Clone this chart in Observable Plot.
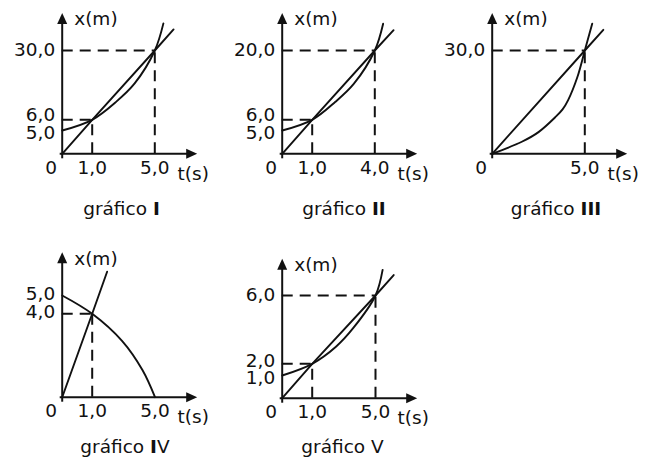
<!DOCTYPE html>
<html>
<head>
<meta charset="utf-8">
<script src="https://cdn.jsdelivr.net/npm/d3@7"></script>
<script src="https://cdn.jsdelivr.net/npm/@observablehq/plot@0.6"></script>
<style>
  body { margin: 0; background: #fff; }
  #page { position: relative; width: 652px; height: 465px; overflow: hidden; background: #fff; }
  .panel { position: absolute; }
  .panel svg { background: transparent; overflow: visible; }
  .caption { position: absolute; width: 140px; text-align: center; color: #111;
             font: 18.5px/19px "DejaVu Sans", sans-serif; white-space: nowrap; }
</style>
</head>
<body>
<div id="page"></div>
<script>
// Position–time sketches: a uniform motion (straight line) and an
// accelerated one (curve) on the same axes, for five cases.

// gráfico I
const tTicks1 = [1, 5];
const xTicks1 = [5, 6, 30];
const line1   = [{t: 0, x: 0}, {t: 1, x: 6}, {t: 5, x: 30}, {t: 6.2, x: 37.3}];
const curve1  = [{t: 0, x: 5}, {t: 1, x: 6}, {t: 2.5, x: 12.1}, {t: 3.7, x: 18.5}, {t: 5, x: 30}, {t: 5.55, x: 39.4}];
const meet1   = [{t: 1, x: 6}, {t: 5, x: 30}];

// gráfico II
const tTicks2 = [1, 4];
const xTicks2 = [5, 6, 20];
const line2   = [{t: 0, x: 0}, {t: 1, x: 6}, {t: 4, x: 20}, {t: 4.9, x: 24.1}];
const curve2  = [{t: 0, x: 5}, {t: 1, x: 6}, {t: 2.1, x: 9.6}, {t: 3, x: 13.3}, {t: 4, x: 20}, {t: 4.4, x: 25.4}];
const meet2   = [{t: 1, x: 6}, {t: 4, x: 20}];

// gráfico III
const tTicks3 = [5];
const xTicks3 = [30];
const line3   = [{t: 0, x: 0}, {t: 5, x: 30}, {t: 6, x: 36}];
const curve3  = [{t: 0, x: 0}, {t: 1.6, x: 3.5}, {t: 2.5, x: 6.3}, {t: 3.4, x: 10.6}, {t: 3.8, x: 12.9},
                 {t: 4.1, x: 15.6}, {t: 4.6, x: 22.3}, {t: 5, x: 30}, {t: 5.4, x: 37.8}];
const meet3   = [{t: 5, x: 30}];

// gráfico IV
const tTicks4 = [1, 5];
const xTicks4 = [4, 5];
const line4   = [{t: 0, x: 0}, {t: 1, x: 4}, {t: 1.95, x: 6.3}];
const curve4  = [{t: 0, x: 5}, {t: 1, x: 4}, {t: 2.9, x: 2.7}, {t: 4.2, x: 1.3}, {t: 5, x: 0}];
const meet4   = [{t: 1, x: 4}];

// gráfico V
const tTicks5 = [1, 5];
const xTicks5 = [1, 2, 6];
const line5   = [{t: 0, x: 0}, {t: 1, x: 2}, {t: 5, x: 6}, {t: 6.15, x: 7.2}];
const curve5  = [{t: 0, x: 1}, {t: 1, x: 2}, {t: 2.5, x: 3.0}, {t: 3.6, x: 4.1}, {t: 5, x: 6}, {t: 5.45, x: 7.5}];
const meet5   = [{t: 1, x: 2}, {t: 5, x: 6}];

const names = ["I", "II", "III", "IV", "V"];

// Layout: the sketches are not to scale, so each axis is a piecewise-linear
// scale whose breakpoints (page pixels) follow the labelled values.
const layout = [
  {box: [0, 0, 218, 190],   tRange: [61.7, 91.7, 154.3],  xRange: [153.3, 130, 119.3, 50],   tip: [196.7, 12.5],  nudge: {6: -4.5, 5: 2.5}, caption: [121.5, 215]},
  {box: [218, 0, 215, 190], tRange: [281.7, 311.7, 374.3], xRange: [153.3, 130, 119.3, 50],  tip: [416.7, 12.5],  nudge: {6: -4.5, 5: 2.5}, caption: [344, 215]},
  {box: [433, 0, 219, 190], tRange: [491.7, 584.3],        xRange: [153.3, 50],               tip: [626.7, 12.5],  nudge: {},                caption: [556, 215]},
  {box: [0, 232, 218, 200], tRange: [61.7, 91.7, 154.5],  xRange: [396.7, 313.3, 295],       tip: [196.7, 251.7], nudge: {5: -1.5, 4: -1.5},  caption: [125, 453]},
  {box: [218, 232, 215, 200], tRange: [281.7, 311.7, 375], xRange: [397.7, 375, 363.3, 295], tip: [416.7, 258.3], nudge: {2: -2.5, 1: 2.5},  caption: [342.5, 453]}
];

const panels = [
  {tTicks: tTicks1, xTicks: xTicks1, line: line1, curve: curve1, meet: meet1},
  {tTicks: tTicks2, xTicks: xTicks2, line: line2, curve: curve2, meet: meet2},
  {tTicks: tTicks3, xTicks: xTicks3, line: line3, curve: curve3, meet: meet3},
  {tTicks: tTicks4, xTicks: xTicks4, line: line4, curve: curve4, meet: meet4},
  {tTicks: tTicks5, xTicks: xTicks5, line: line5, curve: curve5, meet: meet5}
];

const ink = "#111";
const font = {fontFamily: "DejaVu Sans", fontSize: 18.5, fill: ink, lineAnchor: "middle"};
const fmt = (v) => v.toFixed(1).replace(".", ",");

// filled arrowhead with its tip at the symbol origin, pointing up
const arrowHead = {
  draw(ctx) {
    ctx.moveTo(0, 0);
    ctx.lineTo(5, 11);
    ctx.lineTo(-5, 11);
    ctx.closePath();
  }
};

const page = document.getElementById("page");

panels.forEach((p, i) => {
  const L = layout[i];
  const [left, top, width, height] = L.box;
  const ox = L.tRange[0], oy = L.xRange[0];

  const chart = Plot.plot({
    width,
    height,
    marginLeft: ox - left,
    marginTop: L.tip[1] - top,
    marginRight: left + width - L.tip[0],
    marginBottom: top + height - oy,
    x: {type: "linear", domain: [0, ...p.tTicks], range: L.tRange.map((v) => v - left), axis: null},
    y: {type: "linear", domain: [0, ...p.xTicks], range: L.xRange.map((v) => v - top), axis: null},
    style: {background: "transparent", overflow: "visible"},
    marks: [
      // dashed reading lines to the crossing points
      Plot.ruleY(p.meet, {y: "x", x1: () => 0, x2: "t", stroke: ink, strokeWidth: 2, strokeDasharray: "11,7"}),
      Plot.ruleX(p.meet, {x: "t", y1: () => 0, y2: "x", stroke: ink, strokeWidth: 2, strokeDasharray: "11,7"}),
      // the two motions
      Plot.line(p.line, {x: "t", y: "x", stroke: ink, strokeWidth: 1.9}),
      Plot.line(p.curve, {x: "t", y: "x", curve: "catmull-rom", stroke: ink, strokeWidth: 1.9}),
      // axes with arrowheads
      Plot.ruleX([0], {stroke: ink, strokeWidth: 2, insetTop: 5, insetBottom: -5}),
      Plot.ruleY([0], {stroke: ink, strokeWidth: 2, insetLeft: -2, insetRight: 5}),
      Plot.dot([0], {frameAnchor: "top-left", symbol: arrowHead, fill: ink, stroke: "none"}),
      Plot.dot([0], {frameAnchor: "bottom-right", symbol: arrowHead, rotate: 90, fill: ink, stroke: "none"}),
      // tick labels
      Plot.text(p.tTicks, {x: (d) => d, frameAnchor: "bottom", textAnchor: "middle", dy: 14, text: fmt, ...font}),
      ...p.xTicks.map((v) =>
        Plot.text([v], {y: (d) => d, frameAnchor: "left", textAnchor: "end", dx: -7, dy: L.nudge[v] ?? 0, text: fmt, ...font})
      ),
      Plot.text(["0"], {frameAnchor: "bottom-left", textAnchor: "middle", dx: -11, dy: 14, text: (d) => d, ...font}),
      // axis names
      Plot.text(["x(m)"], {frameAnchor: "top-left", textAnchor: "start", dx: 12, dy: 6.5, text: (d) => d, ...font}),
      Plot.text(["t(s)"], {frameAnchor: "bottom-right", textAnchor: "middle", dx: -4, dy: 20, text: (d) => d, ...font})
    ]
  });

  const wrap = document.createElement("div");
  wrap.className = "panel";
  wrap.style.left = left + "px";
  wrap.style.top = top + "px";
  wrap.style.width = width + "px";
  wrap.appendChild(chart);
  page.appendChild(wrap);
});

// captions under each sketch
names.forEach((n, i) => {
  const [cx, baseline] = layout[i].caption;
  const cap = document.createElement("div");
  cap.className = "caption";
  cap.style.left = (cx - 70) + "px";
  cap.style.top = (baseline - 16) + "px";
  cap.innerHTML = "gráfico " + n.replace(/I/g, "<b>I</b>");
  page.appendChild(cap);
});
</script>
</body>
</html>
